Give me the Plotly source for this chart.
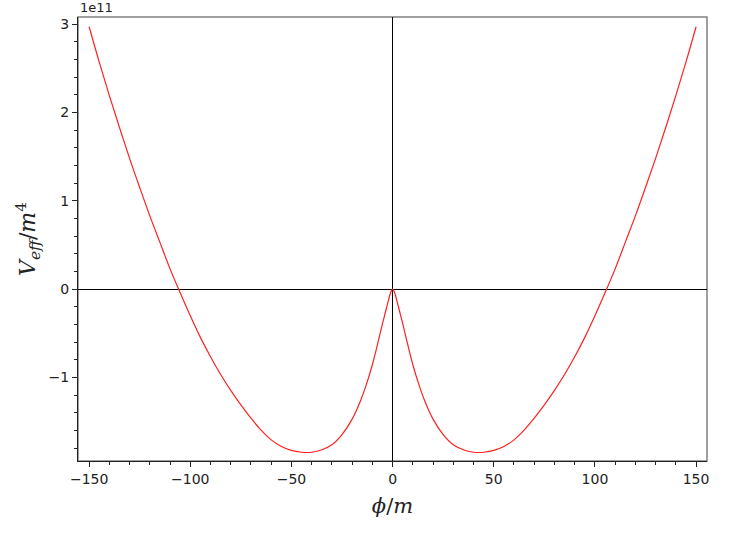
import plotly.graph_objects as go

# phi/m sample positions (right half; curve is mirrored to the left)
phi_right = [0, 1, 2, 3, 4, 5, 6, 8, 10, 13, 16, 20, 25, 30, 35, 40, 42, 45, 50, 55,
             60, 65, 70, 75, 80, 85, 90, 95, 100, 105, 110, 115, 120, 125, 130, 135,
             140, 145, 150]
# V_eff/m^4 in units of 1e11
v_right = [0.0, -0.04, -0.12, -0.21, -0.30, -0.39, -0.485, -0.675, -0.855, -1.08, -1.27,
           -1.47, -1.645, -1.76, -1.817, -1.845, -1.848, -1.845, -1.824, -1.78,
           -1.705, -1.595, -1.46, -1.31, -1.145, -0.965, -0.765, -0.545, -0.30, -0.04,
           0.23, 0.53, 0.83, 1.15, 1.48, 1.83, 2.19, 2.57, 2.97]

phi = [-p for p in phi_right[:0:-1]] + phi_right
v = v_right[:0:-1] + v_right

x_ticks = [-150, -100, -50, 0, 50, 100, 150]
x_tick_text = ["\u2212150", "\u2212100", "\u221250", "0", "50", "100", "150"]
y_ticks = [-1, 0, 1, 2, 3]
y_tick_text = ["\u22121", "0", "1", "2", "3"]

fig = go.Figure()
fig.add_trace(go.Scatter(x=phi, y=v, mode="lines",
                         line=dict(color="#ff2020", width=1.2, shape="spline", smoothing=1.0),
                         hoverinfo="skip", showlegend=False))

font_ticks = dict(family="DejaVu Sans", size=14, color="#222")

fig.update_layout(
    width=736, height=536,
    margin=dict(l=78, r=29, t=17, b=75),
    paper_bgcolor="white", plot_bgcolor="white",
    font=font_ticks,
    xaxis=dict(range=[-155.5, 155.4], tickvals=x_ticks, ticktext=x_tick_text,
               ticks="outside", ticklen=5, tickwidth=1, tickcolor="#222",
               minor=dict(dtick=10, tick0=0, ticks="outside", ticklen=3, tickcolor="#222", showgrid=False),
               showgrid=False, zeroline=True, zerolinecolor="black", zerolinewidth=1,
               showline=True, linecolor="#222", linewidth=1.2,
               title=dict(text="<i>ϕ</i>/<i>m</i>", font=dict(family="DejaVu Serif", size=21, color="#222"),
                          standoff=12)),
    yaxis=dict(range=[-1.944, 3.08], tickvals=y_ticks, ticktext=y_tick_text,
               ticks="outside", ticklen=5, tickwidth=1, tickcolor="#222",
               minor=dict(dtick=0.2, tick0=0, ticks="outside", ticklen=3, tickcolor="#222", showgrid=False),
               showgrid=False, zeroline=True, zerolinecolor="black", zerolinewidth=1,
               showline=True, linecolor="#222", linewidth=1.2,
               title=dict(text="<i>V</i><sub><i>eff</i></sub>/<i>m</i><sup>4</sup>",
                          font=dict(family="DejaVu Serif", size=22, color="#222"), standoff=6)),
    shapes=[dict(type="rect", xref="paper", yref="paper", x0=0, x1=1, y0=0, y1=1,
                 line=dict(color="#808080", width=1.5), layer="below")],
    annotations=[dict(text="1e11", xref="paper", yref="paper", x=0, y=1, xanchor="left",
                      yanchor="bottom", showarrow=False, yshift=0,
                      font=dict(family="DejaVu Sans", size=13, color="#222"))],
)

fig.write_html("out.html", config={"displayModeBar": False},
               post_script="document.body.style.margin='0px';document.body.style.overflow='hidden';")
